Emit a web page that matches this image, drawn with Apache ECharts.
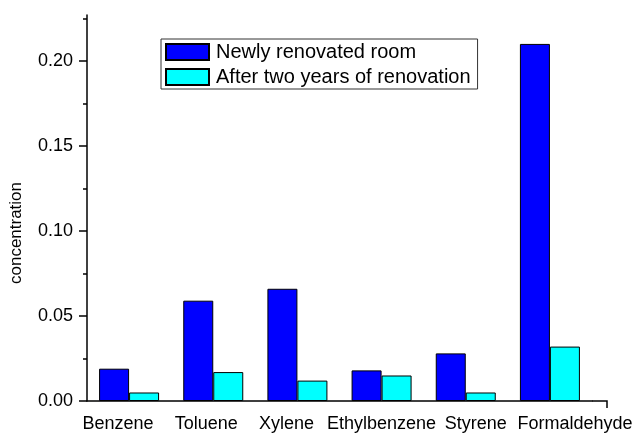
<!DOCTYPE html>
<html>
<head>
<meta charset="utf-8">
<script src="https://cdn.jsdelivr.net/npm/echarts@6/dist/echarts.min.js"></script>
<style>
  html, body { margin: 0; padding: 0; background: #fff; }
  #chart { width: 640px; height: 435px; }
</style>
</head>
<body>
<div id="chart"></div>
<script>
// compounds measured
var categories = ['Benzene', 'Toluene', 'Xylene', 'Ethylbenzene', 'Styrene', 'Formaldehyde'];
// concentration values
var newlyRenovated = [0.019, 0.059, 0.066, 0.018, 0.028, 0.210];
var afterTwoYears = [0.005, 0.017, 0.012, 0.015, 0.005, 0.032];
var majorTicks = [0, 0.05, 0.10, 0.15, 0.20];
var minorTicks = [0.025, 0.075, 0.125, 0.175, 0.225];
var seriesNames = ['Newly renovated room', 'After two years of renovation'];

var font = 'Liberation Sans, Arial, sans-serif';
var yMax = 0.227;

// labels in the original are nudged sideways so the long ones don't collide
var labelPads = [[0, 22, 0, 0], [0, 14, 0, 0], [0, 22, 0, 0], [0, 0, 0, 0], [0, 0, 0, 20], [0, 0, 0, 50]];
var labelRich = {};
labelPads.forEach(function (p, i) {
    labelRich['c' + i] = {padding: p, fontSize: 18, fontFamily: font, color: '#000'};
});

var myChart = echarts.init(document.getElementById('chart'));

var option = {
    animation: false,
    backgroundColor: '#fff',
    textStyle: {fontFamily: font},
    legend: {
        orient: 'vertical',
        left: 161,
        top: 39,
        padding: [3, 7, 2, 4],
        itemGap: 5,
        itemWidth: 43,
        itemHeight: 16,
        icon: 'rect',
        borderColor: '#333',
        borderWidth: 1,
        borderRadius: 0,
        textStyle: {fontFamily: font, fontSize: 20, lineHeight: 20, color: '#000', padding: [0, 0, 0, 2]},
        data: seriesNames
    },
    grid: {left: 87, top: 15, right: 48, bottom: 34, containLabel: false},
    xAxis: {
        type: 'category',
        data: categories,
        axisLine: {lineStyle: {color: '#000', width: 1.5}},
        axisTick: {show: false},
        axisLabel: {
            color: '#000', fontSize: 18, fontFamily: font, margin: 14, interval: 0,
            formatter: function (v, i) { return '{c' + i + '|' + v + '}'; },
            rich: labelRich
        }
    },
    yAxis: [{
        type: 'value',
        min: 0,
        max: yMax,
        name: 'concentration',
        nameLocation: 'middle',
        nameGap: 62,
        nameTextStyle: {color: '#000', fontSize: 17, fontFamily: font, padding: [0, 50, 0, 0]},
        splitLine: {show: false},
        axisLine: {show: true, lineStyle: {color: '#000', width: 1.5}},
        axisTick: {show: true, length: 8, inside: false, customValues: majorTicks, lineStyle: {color: '#000', width: 1.5}},
        axisLabel: {
            color: '#000', fontSize: 18, fontFamily: font, margin: 14,
            customValues: majorTicks,
            formatter: function (v) { return v.toFixed(2); }
        }
    }, {
        type: 'value',
        min: 0,
        max: yMax,
        position: 'left',
        splitLine: {show: false},
        axisLine: {show: false},
        axisTick: {show: true, length: 4, customValues: minorTicks, lineStyle: {color: '#000', width: 1.5}},
        axisLabel: {show: false}
    }],
    series: [{
        name: seriesNames[0],
        type: 'bar',
        data: newlyRenovated,
        barWidth: 30,
        barGap: '0%',
        itemStyle: {color: '#0000ff', borderColor: '#000', borderWidth: 1}
    }, {
        name: seriesNames[1],
        type: 'bar',
        data: afterTwoYears,
        barWidth: 30,
        barGap: '0%',
        itemStyle: {color: '#00ffff', borderColor: '#000', borderWidth: 1}
    }],
    graphic: [{
        // axis line continues past the last category
        type: 'polyline',
        shape: {points: [[592, 401], [607, 401], [607, 408]]},
        style: {stroke: '#000', lineWidth: 1.5, fill: null},
        z: 10
    }]
};

myChart.setOption(option);
</script>
</body>
</html>
